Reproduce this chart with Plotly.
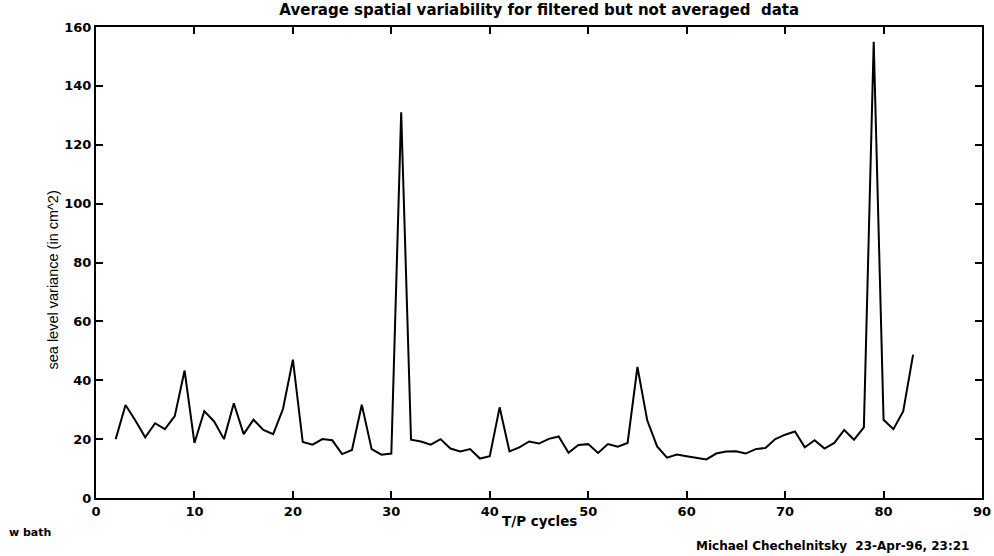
import plotly.graph_objects as go

cycles = list(range(2, 84))
variance = [20.0, 31.6, 26.3, 20.6, 25.4, 23.4, 27.8, 43.3, 18.7, 29.5,
            26.0, 20.0, 32.2, 21.7, 26.6, 23.1, 21.7, 30.3, 47.0, 19.0,
            18.1, 20.0, 19.6, 14.9, 16.3, 31.7, 16.6, 14.7, 15.1, 131.0,
            19.8, 19.2, 18.1, 20.0, 16.8, 15.8, 16.6, 13.4, 14.2, 30.8,
            15.8, 17.2, 19.2, 18.5, 20.1, 20.9, 15.4, 18.0, 18.3, 15.3,
            18.3, 17.4, 18.7, 44.5, 26.3, 17.5, 13.7, 14.8, 14.2, 13.7,
            13.1, 15.1, 15.8, 15.9, 15.1, 16.6, 17.0, 20.0, 21.5, 22.6,
            17.2, 19.6, 16.8, 18.7, 23.1, 19.8, 24.0, 155.0, 26.6, 23.4,
            29.5, 48.7]

x_ticks = [0, 10, 20, 30, 40, 50, 60, 70, 80, 90]
y_ticks = [0, 20, 40, 60, 80, 100, 120, 140, 160]

title_text = "Average spatial variability for filtered but not averaged  data"
x_title = "T/P cycles"
y_title = "sea level variance (in cm^2)"
left_note = "w bath"
right_note = "Michael Chechelnitsky  23-Apr-96, 23:21"

BOLD = dict(family="DejaVu Sans", color="black", weight="bold")

fig = go.Figure()
fig.add_trace(go.Scatter(x=cycles, y=variance, mode="lines",
                         line=dict(color="black", width=2), showlegend=False))

axis_common = dict(showgrid=False, zeroline=False, showline=True, linecolor="black",
                   linewidth=2, mirror="ticks", ticks="inside", ticklen=7,
                   tickwidth=1.5, tickcolor="black", automargin=False,
                   tickfont=dict(size=13, **BOLD))

fig.update_xaxes(range=[0, 90], tickvals=x_ticks, **axis_common)
fig.update_yaxes(range=[0, 160], tickvals=y_ticks, **axis_common)

fig.update_layout(
    template="none",
    width=994, height=556,
    margin=dict(l=96, r=12, t=27, b=58, autoexpand=False),
    paper_bgcolor="white", plot_bgcolor="white",
    title=dict(text=title_text, x=0.5425, xanchor="center", y=0.982, yanchor="middle",
               font=dict(size=15, **BOLD)),
    annotations=[
        dict(text=x_title, xref="paper", yref="paper", x=0.5, y=-0.049,
             xanchor="center", yanchor="middle", showarrow=False,
             font=dict(size=13.5, **BOLD)),
        dict(text=y_title, xref="paper", yref="paper", x=-0.049, y=0.463,
             xanchor="center", yanchor="middle", textangle=-90, showarrow=False,
             font=dict(family="Liberation Sans", size=14.5, color="black")),
        dict(text=left_note, xref="paper", yref="paper", x=-0.1, y=-0.074,
             xanchor="left", yanchor="middle", showarrow=False,
             font=dict(size=11, **BOLD)),
        dict(text=right_note, xref="paper", yref="paper", x=0.9875, y=-0.102,
             xanchor="right", yanchor="middle", showarrow=False,
             font=dict(size=12, **BOLD)),
    ],
)

fig.write_html("out.html")
